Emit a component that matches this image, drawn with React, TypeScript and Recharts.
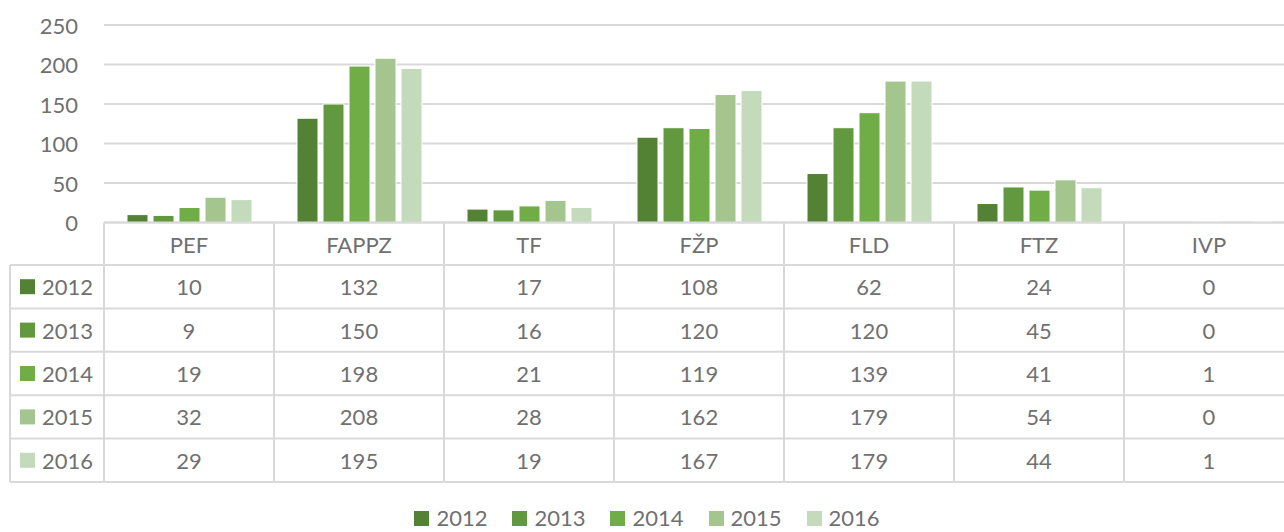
import { Bar, BarChart, CartesianGrid, Legend, XAxis, YAxis } from "recharts";

const categories = ["PEF", "FAPPZ", "TF", "FŽP", "FLD", "FTZ", "IVP"];
const years = ["2012", "2013", "2014", "2015", "2016"];
const v2012 = [10, 132, 17, 108, 62, 24, 0];
const v2013 = [9, 150, 16, 120, 120, 45, 0];
const v2014 = [19, 198, 21, 119, 139, 41, 1];
const v2015 = [32, 208, 28, 162, 179, 54, 0];
const v2016 = [29, 195, 19, 167, 179, 44, 1];
const yTicks = [0, 50, 100, 150, 200, 250];

const series = [v2012, v2013, v2014, v2015, v2016];
const colors = ["#548235", "#62993e", "#70ad47", "#a4c68e", "#c3dbbb"];

const data = categories.map((name, i) => {
  const row: Record<string, string | number> = { name };
  years.forEach((y, k) => (row[y] = series[k][i]));
  return row;
});

// layout
const W = 1294;
const H = 532;
const PLOT_LEFT = 104;
const COL_W = (W - PLOT_LEFT) / categories.length;
const HEADER_H = 42.5;
const ROW_H = 43.4;
const TABLE_H = HEADER_H + ROW_H * years.length;
const LEG_COL_X = 10;
const FONT = "Lato, 'Open Sans', sans-serif";
const TEXT = "#707070";
const LINE = "#d9d9d9";

function YTick(props: any) {
  const { y, payload } = props;
  return (
    <text x={78} y={y} textAnchor="end" dominantBaseline="central" fill={TEXT} fontSize={22} fontFamily={FONT}>
      {payload.value}
    </text>
  );
}

// each x tick draws one column of the data table
function TableColumn(props: any) {
  const { x, y, payload, index } = props;
  const left = x - COL_W / 2;
  const right = x + COL_W / 2;
  const bottom = y + TABLE_H;
  const txt = { fill: TEXT, fontSize: 22, fontFamily: FONT, dominantBaseline: "central" as const };
  return (
    <g>
      <line x1={left} x2={left} y1={y} y2={bottom} stroke={LINE} strokeWidth={2} />
      {index === categories.length - 1 && (
        <line x1={right} x2={right} y1={y} y2={bottom} stroke={LINE} strokeWidth={2} />
      )}
      <text x={x} y={y + HEADER_H / 2 + 1} textAnchor="middle" {...txt}>
        {payload.value}
      </text>
      {years.map((yr, k) => {
        const top = y + HEADER_H + k * ROW_H;
        return (
          <g key={yr}>
            <line x1={left} x2={right} y1={top} y2={top} stroke={LINE} strokeWidth={2} />
            <text x={x} y={top + ROW_H / 2} textAnchor="middle" {...txt}>
              {series[k][index]}
            </text>
          </g>
        );
      })}
      <line x1={left} x2={right} y1={bottom} y2={bottom} stroke={LINE} strokeWidth={2} />
      {index === 0 && (
        <g>
          <line x1={LEG_COL_X} x2={LEG_COL_X} y1={y + HEADER_H} y2={bottom} stroke={LINE} strokeWidth={2} />
          {years.map((yr, k) => {
            const top = y + HEADER_H + k * ROW_H;
            return (
              <g key={yr}>
                <line x1={LEG_COL_X} x2={left} y1={top} y2={top} stroke={LINE} strokeWidth={2} />
                <rect x={20} y={top + ROW_H / 2 - 7.5} width={15} height={15} fill={colors[k]} />
                <text x={42} y={top + ROW_H / 2} textAnchor="start" {...txt}>
                  {yr}
                </text>
              </g>
            );
          })}
          <line x1={LEG_COL_X} x2={left} y1={bottom} y2={bottom} stroke={LINE} strokeWidth={2} />
        </g>
      )}
    </g>
  );
}

function BottomLegend() {
  return (
    <div style={{ display: "flex", justifyContent: "center", alignItems: "center", height: 26, lineHeight: "26px", fontFamily: FONT, fontSize: 22, color: TEXT }}>
      {years.map((yr, k) => (
        <div key={yr} style={{ display: "flex", alignItems: "center", marginRight: k < years.length - 1 ? 25 : 0 }}>
          <span style={{ width: 15, height: 15, background: colors[k], marginRight: 7, display: "inline-block" }} />
          <span>{yr}</span>
        </div>
      ))}
    </div>
  );
}

export default function App() {
  return (
    <div style={{ width: 1284, height: H, overflow: "hidden", background: "#fff" }}>
      <style>{`body { margin: 0; overflow: hidden; }`}</style>
      <BarChart
        width={W}
        height={H}
        data={data}
        margin={{ top: 25, right: 0, left: 0, bottom: H - 25 - 197.5 - TABLE_H }}
        barGap={5}
      >
        <CartesianGrid vertical={false} stroke={LINE} strokeWidth={2} />
        <YAxis
          domain={[0, 250]}
          ticks={yTicks}
          width={PLOT_LEFT}
          axisLine={false}
          tickLine={false}
          tick={<YTick />}
          interval={0}
        />
        <XAxis
          dataKey="name"
          height={TABLE_H}
          axisLine={{ stroke: LINE, strokeWidth: 2 }}
          tickLine={false}
          tickSize={0}
          tickMargin={0}
          interval={0}
          tick={<TableColumn />}
        />
        <Legend
          layout="horizontal"
          verticalAlign="middle"
          align="center"
          wrapperStyle={{ top: 505, left: 0, width: W }}
          content={<BottomLegend />}
        />
        {years.map((yr, k) => (
          <Bar key={yr} dataKey={yr} fill={colors[k]} stroke="#fff" strokeWidth={1} barSize={21} isAnimationActive={false} />
        ))}
      </BarChart>
    </div>
  );
}
